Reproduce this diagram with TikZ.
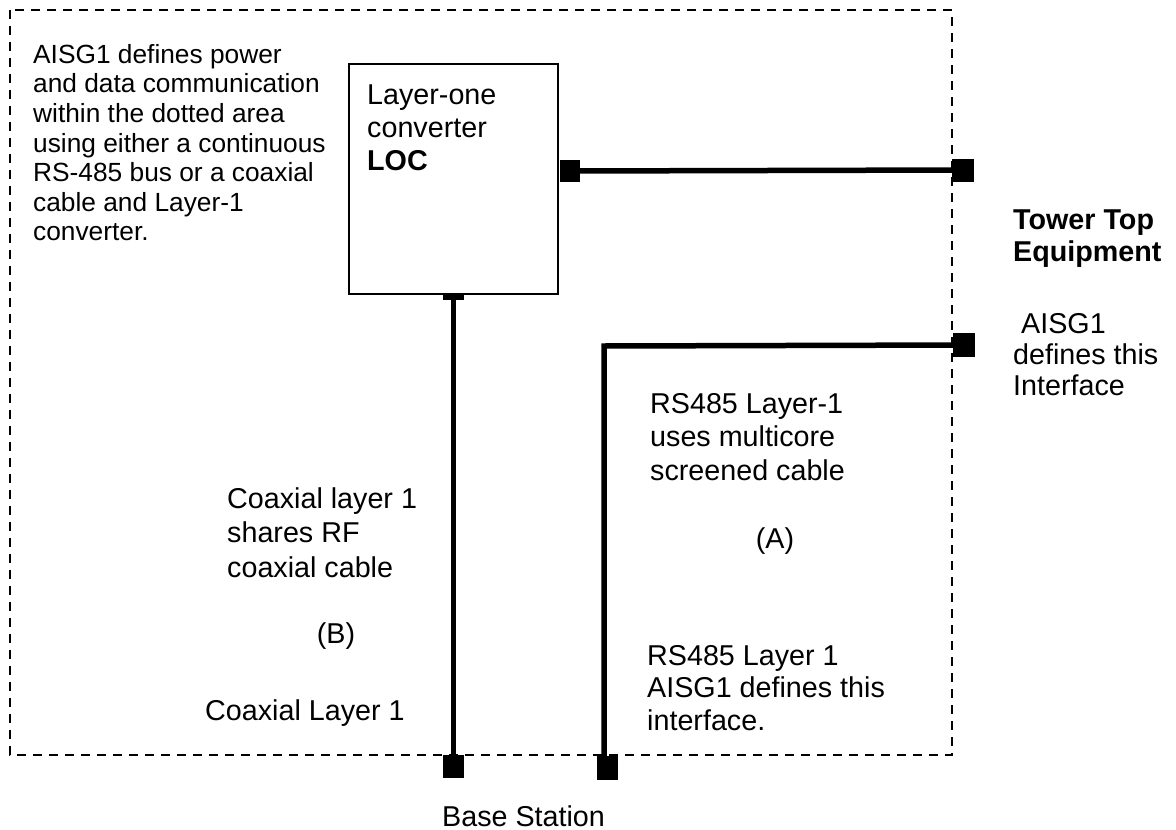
\documentclass[tikz,border=0pt]{standalone}
\usepackage{fontspec}
\setmainfont{Liberation Sans}
\begin{document}
\begin{tikzpicture}[x=1pt,y=-1pt,
  txt/.style={inner sep=0pt,anchor=north west,align=left},
  big/.style={font=\fontsize{28.7}{#1}\selectfont},
  small/.style={font=\fontsize{26.3}{29.6}\selectfont},
  term/.style={fill=black,draw=none,minimum width=21pt,minimum height=23pt,inner sep=0pt},
  cable/.style={line width=5.5pt},
  area/.style={dash pattern=on 9pt off 7pt,line width=1.5pt},
  locbox/.style={draw,line width=1.7pt,inner sep=0pt}]
\useasboundingbox (0,0) rectangle (1176,830);
% dotted area
\draw[area] (10,10) rectangle (952,755);
% LOC box
\node[locbox,minimum width=209pt,minimum height=230pt] (loc) at (453.5,179) {};
\node[txt,big=33] (loctxt) at (367,80.9) {\strut Layer-one\\converter\\\textbf{LOC}};
% terminals
\node[term,minimum width=20pt,minimum height=22pt] (locr) at (570,171) {};
\node[term,minimum width=22pt] (ttea) at (963,170) {};
\node[term,minimum height=6pt] (locb) at (453.5,297) {};
\node[term] (bsb) at (453.5,766.5) {};
\node[term,minimum width=22pt,minimum height=24pt] (tteb) at (964,345) {};
\node[term,minimum height=24pt] (bsa) at (607.5,768) {};
\coordinate (corner) at (604,346);
% cables
\draw[cable] (locr) -- (ttea);
\draw[cable] (locb) -- (bsb);
\draw[cable] (tteb.center) -- (corner) -- (corner |- bsa.north);
% texts
\node[txt,small] (desc) at (33,42.3) {\strut AISG1 defines power\\and data communication\\within the dotted area\\using either a continuous\\RS-485 bus or a coaxial\\cable and Layer-1\\converter.};
\node[txt,big=32] (tte) at (1013,206.6) {\strut\textbf{Tower Top}\\\textbf{Equipment}};
\node[txt,big=31] (ifa) at (1013,311.3) {\strut\ AISG1\\defines this\\Interface};
\node[txt,big=33.5] (rsa) at (650,389.5) {\strut RS485 Layer-1\\uses multicore\\screened cable};
\node[inner sep=0pt,anchor=base,big=33] (la) at (775,548) {(A)};
\node[txt,big=34.5] (coax) at (227,483.9) {\strut Coaxial layer 1\\shares RF\\coaxial cable};
\node[inner sep=0pt,anchor=base,big=33] (lb) at (336,643) {(B)};
\node[inner sep=0pt,anchor=base west,big=33] (coaxb) at (205,720) {Coaxial Layer 1};
\node[txt,big=32.5] (rsb) at (647,642.3) {\strut RS485 Layer 1\\AISG1 defines this\\interface.};
\node[inner sep=0pt,anchor=base west,big=33] (bs) at (442,826) {Base Station};
\end{tikzpicture}
\end{document}
